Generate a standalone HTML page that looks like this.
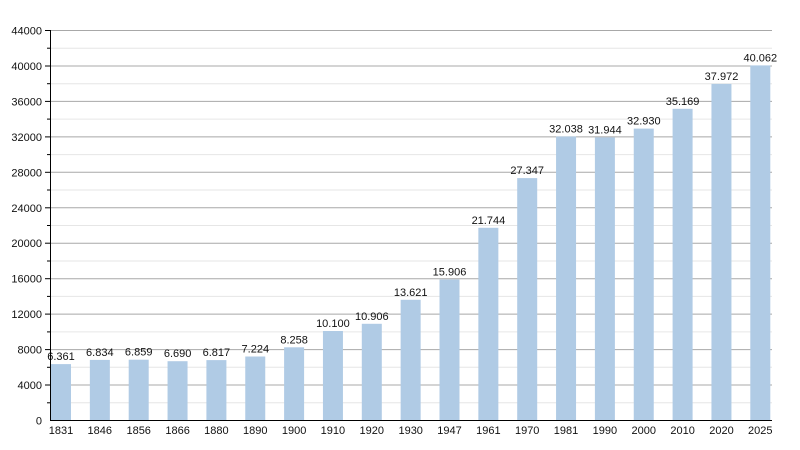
<!DOCTYPE html>
<html><head><meta charset="utf-8"><style>body{margin:0;background:#fff}svg{display:block}text{font-family:"Liberation Sans",sans-serif;font-size:11px;fill:#111}</style></head>
<body><svg id="s" width="800" height="450" xmlns="http://www.w3.org/2000/svg"></svg>
<script>
const years=["1831","1846","1856","1866","1880","1890","1900","1910","1920","1930","1947","1961","1970","1981","1990","2000","2010","2020","2025"];
const vals=[6361,6834,6859,6690,6817,7224,8258,10100,10906,13621,15906,21744,27347,32038,31944,32930,35169,37972,40062];
const y0=420.5,k=390/44000;let h='';
for(let v=2000;v<=44000;v+=4000){const y=(y0-v*k).toFixed(1);h+=`<line x1="51" x2="772" y1="${y}" y2="${y}" stroke="#e6e6e6"/><line x1="47" x2="51" y1="${y}" y2="${y}" stroke="#000"/>`;}
for(let v=4000;v<=44000;v+=4000){const y=(y0-v*k).toFixed(1);h+=`<line x1="51" x2="772" y1="${y}" y2="${y}" stroke="#a8a8a8"/><line x1="45" x2="51" y1="${y}" y2="${y}" stroke="#000"/>`;}
for(let v=0;v<=44000;v+=4000){const y=y0-v*k;h+=`<text x="42" y="${(y+4).toFixed(1)}" text-anchor="end">${v}</text>`;}
years.forEach((yr,i)=>{const c=61+38.85*i,hh=vals[i]*k;const x=i==0?51:c-10;h+=`<rect x="${x}" y="${(y0-hh).toFixed(1)}" width="20" height="${hh.toFixed(1)}" fill="#b0cbe5"/>`;
h+=`<text x="${c.toFixed(1)}" y="${(y0-hh-4).toFixed(1)}" text-anchor="middle">${(vals[i]/1000).toFixed(3)}</text>`;
h+=`<text x="${c.toFixed(1)}" y="434" text-anchor="middle">${yr}</text>`;});
h+=`<line x1="50.5" x2="50.5" y1="30" y2="421" stroke="#000"/><line x1="50" x2="772" y1="420.5" y2="420.5" stroke="#000"/>`;
document.getElementById('s').innerHTML=h;
</script></body></html>
